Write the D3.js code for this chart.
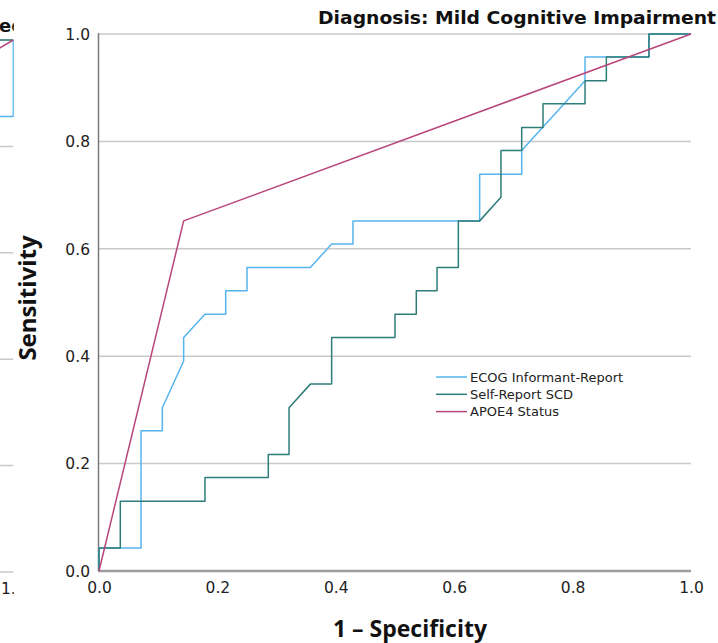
<!DOCTYPE html>
<html>
<head>
<meta charset="utf-8">
<script src="https://cdn.jsdelivr.net/npm/d3@7"></script>
<style>
  body { margin: 0; background: #fff; }
  svg { display: block; }
</style>
</head>
<body>
<div id="chart"></div>
<script>
// Width and height
var chart_width = 718;
var chart_height = 643;

// ROC curve points (1 - specificity, sensitivity)
var ecogFpr = [0, 0, 0.071, 0.071, 0.107, 0.107, 0.143, 0.143, 0.179, 0.214, 0.214, 0.25, 0.25, 0.357, 0.393, 0.429, 0.429, 0.643, 0.643, 0.714, 0.714, 0.821, 0.821, 0.929, 0.929, 1];
var ecogTpr = [0, 0.043, 0.043, 0.261, 0.261, 0.304, 0.391, 0.435, 0.478, 0.478, 0.522, 0.522, 0.565, 0.565, 0.609, 0.609, 0.652, 0.652, 0.739, 0.739, 0.783, 0.913, 0.957, 0.957, 1, 1];

var scdFpr = [0, 0, 0.036, 0.036, 0.179, 0.179, 0.286, 0.286, 0.321, 0.321, 0.357, 0.393, 0.393, 0.5, 0.5, 0.536, 0.536, 0.571, 0.571, 0.607, 0.607, 0.643, 0.679, 0.679, 0.714, 0.714, 0.75, 0.75, 0.821, 0.821, 0.857, 0.857, 0.929, 0.929, 1];
var scdTpr = [0, 0.043, 0.043, 0.13, 0.13, 0.174, 0.174, 0.217, 0.217, 0.304, 0.348, 0.348, 0.435, 0.435, 0.478, 0.478, 0.522, 0.522, 0.565, 0.565, 0.652, 0.652, 0.696, 0.783, 0.783, 0.826, 0.826, 0.87, 0.87, 0.913, 0.913, 0.957, 0.957, 1, 1];

var apoeFpr = [0, 0.143, 1];
var apoeTpr = [0, 0.652, 1];

// visible tail of the neighbouring panel on the left edge
var leftEcogFpr = [0.95, 1, 1];
var leftEcogTpr = [0.856, 0.856, 1];
var leftScdFpr = [0.95, 1];
var leftScdTpr = [1, 1];
var leftApoeFpr = [0.95, 1];
var leftApoeTpr = [0.967, 1];

var tickValues = [0, 0.2, 0.4, 0.6, 0.8, 1.0];
var seriesNames = ["ECOG Informant-Report", "Self-Report SCD", "APOE4 Status"];
var seriesColors = ["#55b4ee", "#2f7d7a", "#b8457c"];

var x = d3.scaleLinear().domain([0, 1]).range([99, 691]);
var y = d3.scaleLinear().domain([0, 1]).range([571, 34]);

var xLeft = d3.scaleLinear().domain([0, 1]).range([13.3 - 592, 13.3]);
var yLeft = d3.scaleLinear().domain([0, 1]).range([572, 40]);

var svg = d3.select("#chart").append("svg")
  .attr("width", chart_width)
  .attr("height", chart_height);

function zipPts(xs, ys) {
  return xs.map(function(v, i) { return [v, ys[i]]; });
}

// ---- left neighbour panel (clipped) ----
svg.append("clipPath").attr("id", "leftclip")
  .append("rect").attr("x", 0).attr("y", 0).attr("width", 13.8).attr("height", chart_height);

var left = svg.append("g").attr("clip-path", "url(#leftclip)");

left.selectAll("line.grid").data(tickValues).enter().append("line")
  .attr("x1", xLeft(0)).attr("x2", xLeft(1))
  .attr("y1", function(d) { return yLeft(d); })
  .attr("y2", function(d) { return yLeft(d); })
  .attr("stroke", "#c9c9c9").attr("stroke-width", 1.5);

var lineLeft = d3.line().x(function(d) { return xLeft(d[0]); }).y(function(d) { return yLeft(d[1]); });
[[leftEcogFpr, leftEcogTpr], [leftScdFpr, leftScdTpr], [leftApoeFpr, leftApoeTpr]].forEach(function(s, i) {
  left.append("path").datum(zipPts(s[0], s[1]))
    .attr("d", lineLeft)
    .attr("fill", "none")
    .attr("stroke", seriesColors[i])
    .attr("stroke-width", 1.5);
});

left.append("text")
  .attr("x", xLeft(1)).attr("y", yLeft(0) + 22)
  .attr("text-anchor", "middle")
  .style("font-family", "DejaVu Sans").style("font-size", "15.5px").attr("fill", "#222")
  .text("1.0");

left.append("text")
  .attr("x", -1).attr("y", 32)
  .style("font-family", "DejaVu Sans").style("font-weight", "bold").style("font-size", "18px").attr("fill", "#111")
  .text("ed");

// ---- main panel ----
svg.selectAll("line.hgrid").data(tickValues.slice(1)).enter().append("line")
  .attr("class", "hgrid")
  .attr("x1", x(0)).attr("x2", x(1))
  .attr("y1", function(d) { return y(d); })
  .attr("y2", function(d) { return y(d); })
  .attr("stroke", "#c9c9c9").attr("stroke-width", 1.5);

// axis lines
svg.append("line")
  .attr("x1", x(0) - 0.5).attr("x2", x(0) - 0.5)
  .attr("y1", y(1) - 1).attr("y2", y(0))
  .attr("stroke", "#7a7a7a").attr("stroke-width", 1.5);

svg.append("line")
  .attr("x1", x(0) - 1).attr("x2", x(1))
  .attr("y1", y(0)).attr("y2", y(0))
  .attr("stroke", "#9d9d9d").attr("stroke-width", 2.5);

// tick labels via d3 axes, with domain & ticks hidden
var yAxis = svg.append("g")
  .attr("transform", "translate(" + (x(0) - 9) + ",0)")
  .call(d3.axisLeft(y).tickValues(tickValues).tickFormat(d3.format(".1f")).tickSize(0));
yAxis.select(".domain").remove();
yAxis.selectAll("text")
  .attr("x", 0).attr("dy", "0.34em")
  .style("font-family", "DejaVu Sans").style("font-size", "15.5px").attr("fill", "#222");

var xAxis = svg.append("g")
  .attr("transform", "translate(0," + y(0) + ")")
  .call(d3.axisBottom(x).tickValues(tickValues).tickFormat(d3.format(".1f")).tickSize(0));
xAxis.select(".domain").remove();
xAxis.selectAll("text")
  .attr("y", 11).attr("dy", "0.71em")
  .style("font-family", "DejaVu Sans").style("font-size", "15.5px").attr("fill", "#222");

// curves
var line = d3.line().x(function(d) { return x(d[0]); }).y(function(d) { return y(d[1]); });
var series = [zipPts(ecogFpr, ecogTpr), zipPts(scdFpr, scdTpr), zipPts(apoeFpr, apoeTpr)];

svg.selectAll("path.roc").data(series).enter().append("path")
  .attr("class", "roc")
  .attr("d", line)
  .attr("fill", "none")
  .attr("stroke", function(d, i) { return seriesColors[i]; })
  .attr("stroke-width", 1.5)
  .attr("stroke-linejoin", "round");

// legend
var legend = svg.append("g").attr("transform", "translate(436,377)");
var rows = legend.selectAll("g").data(seriesNames).enter().append("g")
  .attr("transform", function(d, i) { return "translate(0," + (i * 17.3) + ")"; });
rows.append("line")
  .attr("x1", 0).attr("x2", 31).attr("y1", 0).attr("y2", 0)
  .attr("stroke", function(d, i) { return seriesColors[i]; })
  .attr("stroke-width", 1.5);
rows.append("text")
  .attr("x", 34).attr("y", 0).attr("dy", "0.36em")
  .style("font-family", "DejaVu Sans").style("font-size", "13px").attr("fill", "#222")
  .text(function(d) { return d; });

// titles
svg.append("text")
  .attr("x", 716).attr("y", 24)
  .attr("text-anchor", "end")
  .attr("textLength", 398)
  .attr("lengthAdjust", "spacingAndGlyphs")
  .style("font-family", "DejaVu Sans").style("font-weight", "bold").style("font-size", "17px").attr("fill", "#111")
  .text("Diagnosis: Mild Cognitive Impairment");

svg.append("text")
  .attr("transform", "translate(36,298) rotate(-90)")
  .attr("text-anchor", "middle")
  .style("font-family", "Open Sans").style("font-weight", "bold").style("font-size", "24px").attr("fill", "#111")
  .text("Sensitivity");

svg.append("text")
  .attr("x", 410).attr("y", 637)
  .attr("text-anchor", "middle")
  .style("font-family", "Open Sans").style("font-weight", "bold").style("font-size", "23px").attr("fill", "#111")
  .text("1 \u2013 Specificity");
</script>
</body>
</html>
